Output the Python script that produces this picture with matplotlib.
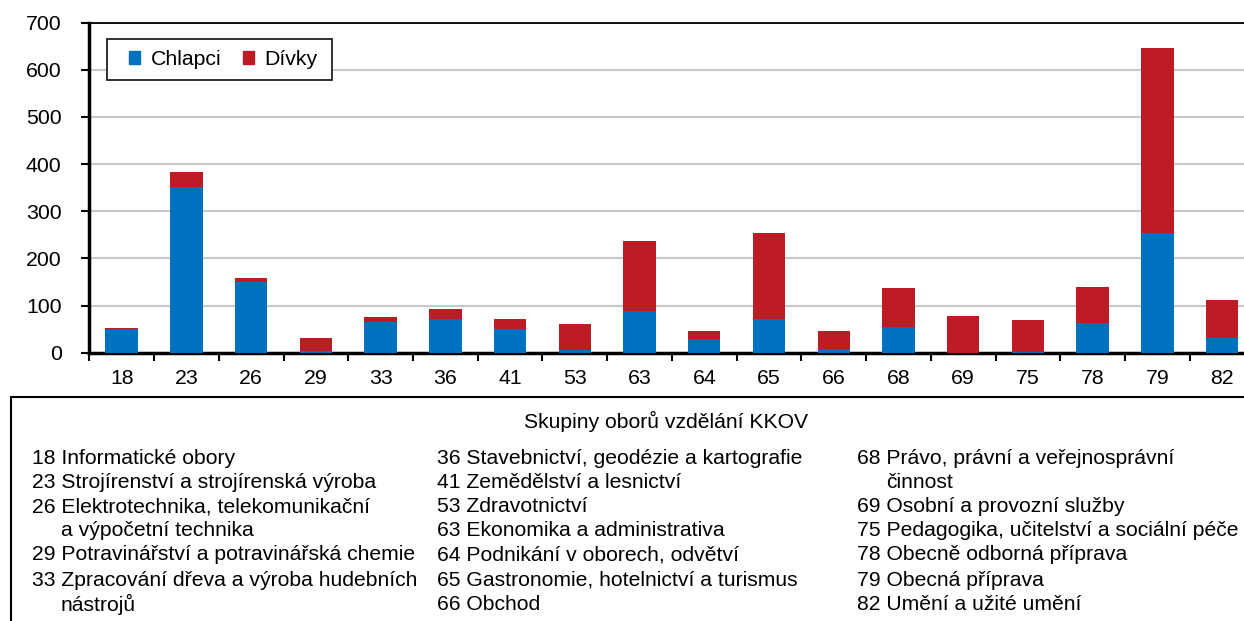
import matplotlib
matplotlib.use("Agg")
import matplotlib.pyplot as plt
from matplotlib.patches import Rectangle, Patch
import numpy as np

plt.rcParams['font.family'] = ['Liberation Sans', 'DejaVu Sans']

codes = ['18', '23', '26', '29', '33', '36', '41', '53', '63', '64', '65',
         '66', '68', '69', '75', '78', '79', '82']
chlapci = [50, 351, 151, 3, 65, 72, 51, 5, 88, 30, 72, 7, 54, 0, 2, 64, 253, 31]
divky = [2, 32, 7, 28, 11, 21, 21, 55, 148, 17, 181, 39, 83, 78, 67, 75, 393, 81]

col1 = ['18 Informatické obory',
        '23 Strojírenství a strojírenská výroba',
        '26 Elektrotechnika, telekomunikační',
        '    a výpočetní technika',
        '29 Potravinářství a potravinářská chemie',
        '33 Zpracování dřeva a výroba hudebních',
        '    nástrojů']
col2 = ['36 Stavebnictví, geodézie a kartografie',
        '41 Zemědělství a lesnictví',
        '53 Zdravotnictví',
        '63 Ekonomika a administrativa',
        '64 Podnikání v oborech, odvětví',
        '65 Gastronomie, hotelnictví a turismus',
        '66 Obchod']
col3 = ['68 Právo, právní a veřejnosprávní',
        '    činnost',
        '69 Osobní a provozní služby',
        '75 Pedagogika, učitelství a sociální péče',
        '78 Obecně odborná příprava',
        '79 Obecná příprava',
        '82 Umění a užité umění']

BLUE = '#0070c0'
RED = '#be1c24'
W, H = 1244, 621

fig = plt.figure(figsize=(W / 100, H / 100), dpi=100)
ax = fig.add_axes([89.3 / W, (H - 352.7) / H, (1254.5 - 89.3) / W, 330 / H])

x = np.arange(len(codes))
ax.bar(x, chlapci, width=0.5, color=BLUE, zorder=3)
ax.bar(x, divky, width=0.5, bottom=chlapci, color=RED, zorder=3)

ax.set_xlim(-0.5, len(codes) - 0.5)
ax.set_ylim(0, 700)
ax.set_yticks(range(0, 701, 100))
ax.yaxis.grid(True, color='#c8c8c8', lw=1.5, zorder=0)

ax.set_xticks(x)
ax.set_xticklabels(codes)
ax.set_xticks(np.arange(-0.5, len(codes)), minor=True)
ax.tick_params(axis='x', which='major', length=0, pad=12, labelsize=15.3)
ax.tick_params(axis='x', which='minor', length=6, width=1.5, direction='out')
ax.tick_params(axis='y', length=6, width=1.5, direction='out', pad=14, labelsize=15.3)

for s in ['left', 'bottom']:
    ax.spines[s].set_linewidth(2.5)
ax.spines['top'].set_linewidth(1.3)
ax.spines['right'].set_visible(False)

# legend: frameless entries plus a drawn box
handles = [Patch(color=BLUE, label='Chlapci'), Patch(color=RED, label='Dívky')]
fig.legend(handles=handles, loc='center left', ncol=2,
           bbox_to_anchor=(129 / W, 1 - 59.5 / H), fontsize=15.3, frameon=False,
           handlelength=0.52, handleheight=0.52, handletextpad=0.5,
           columnspacing=1.0, borderpad=0, borderaxespad=0)
fig.patches.append(Rectangle((106.7 / W, 1 - 80 / H), 225 / W, 41 / H,
                             transform=fig.transFigure, fill=True, fc='white',
                             ec='#222222', lw=1.3, zorder=4))
fig.legends[0].set_zorder(5)

# box with the legend of codes
fig.patches.append(Rectangle((11 / W, -0.1), 1.2, (H - 397.3) / H + 0.1,
                             transform=fig.transFigure, fill=False,
                             ec='black', lw=1.5))
fig.text(666 / W, 1 - 421 / H, 'Skupiny oborů vzdělání KKOV', ha='center',
         va='center', fontsize=15.2)

row_y = [459, 483, 507, 531, 555, 580, 604]
for cx, col in zip([32, 437, 857], [col1, col2, col3]):
    for ry, txt in zip(row_y, col):
        xx = cx
        if txt.startswith('    '):
            xx = cx + 29
            txt = txt.strip()
        fig.text(xx / W, 1 - ry / H, txt, ha='left', va='center', fontsize=15.2)

fig.savefig('out.png', dpi=100)
